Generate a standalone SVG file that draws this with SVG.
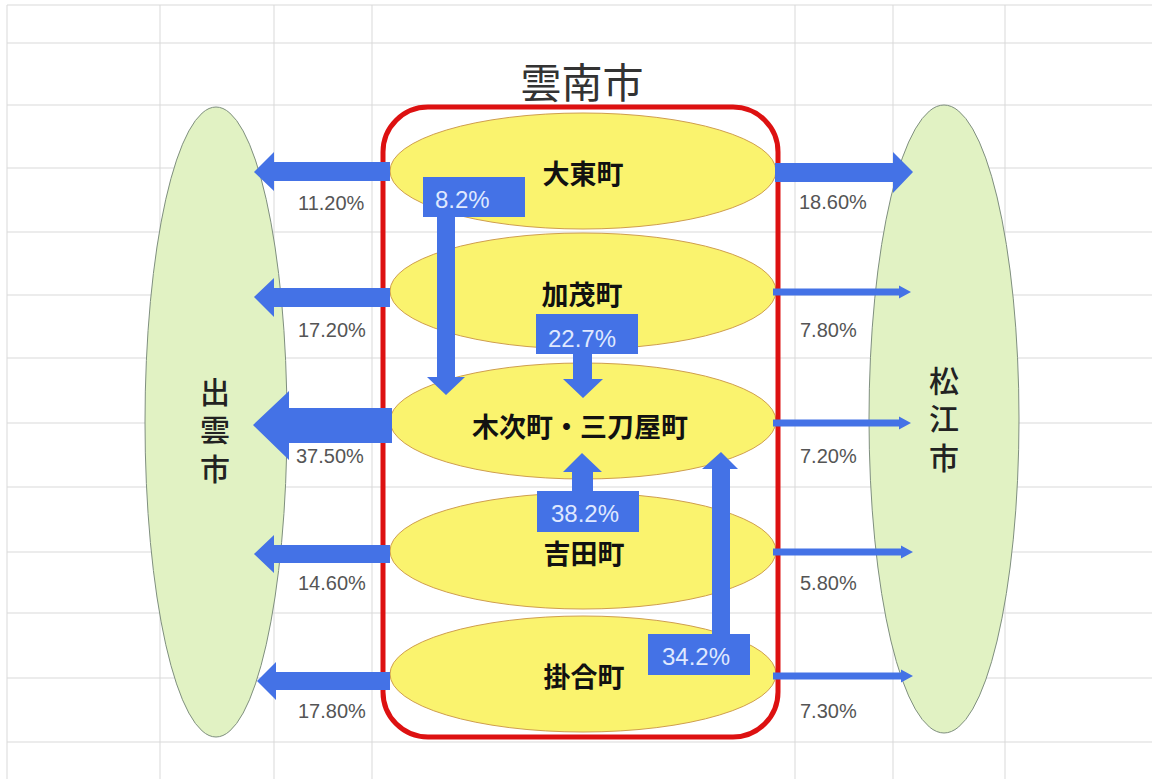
<svg xmlns="http://www.w3.org/2000/svg" width="1152" height="779" viewBox="0 0 1152 779">
<style>
.grid{stroke:#d9d9d9;stroke-width:1;fill:none}
.city{fill:#e1f2c3;stroke:#7f8f7f;stroke-width:1}
.town{fill:#faf36e;stroke:#cf9e4e;stroke-width:1}
.arr{fill:#4472e6}
.box{fill:#4472e6}
.boxt{font-family:"Liberation Sans",Arial,sans-serif;font-size:24px;fill:#dfe8ff}
.pct{font-family:"Liberation Sans",Arial,sans-serif;font-size:20px;fill:#555}
.tl{font-family:"Noto Sans CJK JP","Noto Sans CJK SC",sans-serif;font-size:27px;font-weight:bold;fill:#111;text-anchor:middle;dominant-baseline:central}
.cl{font-family:"Noto Sans CJK JP","Noto Sans CJK SC",sans-serif;font-size:30px;font-weight:500;fill:#222;text-anchor:middle;writing-mode:vertical-rl;letter-spacing:8.5px}
</style>
<rect x="0" y="0" width="1152" height="779" fill="#ffffff"/>
<g id="grid">
<path class="grid" d="M7 5H1152M7 43H1152M7 105H1152M7 168H1152M7 232H1152M7 295H1152M7 358H1152M7 423H1152M7 487H1152M7 552H1152M7 613H1152M7 678H1152M7 742H1152M7 5V779M160 5V779M274 5V779M372 5V779M795 5V779M893 5V779M1005 5V779"/>
</g>
<g id="izumo">
<ellipse class="city" cx="216" cy="422" rx="71" ry="315"/>
<text class="cl" x="215" y="434">出雲市</text>
</g>
<g id="matsue">
<ellipse class="city" cx="944" cy="419" rx="75" ry="314"/>
<text class="cl" x="944" y="423">松江市</text>
</g>
<g id="daito">
<ellipse class="town" cx="583" cy="171" rx="193" ry="58"/>
<text class="tl" x="583" y="172">大東町</text>
</g>
<g id="kamo">
<ellipse class="town" cx="583" cy="291" rx="193" ry="58"/>
<text class="tl" x="582" y="293">加茂町</text>
</g>
<g id="kisuki">
<ellipse class="town" cx="583" cy="421" rx="193" ry="58"/>
<text class="tl" x="580" y="425">木次町・三刀屋町</text>
</g>
<g id="yoshida">
<ellipse class="town" cx="583" cy="551" rx="193" ry="58"/>
<text class="tl" x="584" y="552">吉田町</text>
</g>
<g id="kakeya">
<ellipse class="town" cx="583" cy="674" rx="193" ry="58"/>
<text class="tl" x="584" y="675">掛合町</text>
</g>
<g id="unnan">
<rect x="383" y="107" width="395" height="630" rx="45" ry="45" fill="none" stroke="#dd1111" stroke-width="5"/>
<text x="582" y="80" font-family="'Noto Sans CJK JP','Noto Sans CJK SC',sans-serif" font-size="41" fill="#333" text-anchor="middle" dominant-baseline="central">雲南市</text>
</g>
<g id="connectors">
<polygon class="arr" points="390,162 274,162 274,152 254,172 274,191 274,181 390,181"/>
<polygon class="arr" points="390,288 274,288 274,278 254,297 274,317 274,307 390,307"/>
<polygon class="arr" points="392,408 289,408 289,391 253,425 289,460 289,443 392,443"/>
<polygon class="arr" points="390,545 274,545 274,535 254,554 274,573 274,563 390,563"/>
<polygon class="arr" points="390,672 276,672 276,662 257,681 276,700 276,690 390,690"/>
<polygon class="arr" points="775,163 893,163 893,152 913,172 893,193 893,182 775,182"/>
<polygon class="arr" points="773,288.5 899,288.5 899,285.5 911,292 899,298.5 899,295.5 773,295.5"/>
<polygon class="arr" points="773,419.5 899,419.5 899,416.5 911,423 899,429.5 899,426.5 773,426.5"/>
<polygon class="arr" points="773,548.5 901,548.5 901,545.5 913,552 901,558.5 901,555.5 773,555.5"/>
<polygon class="arr" points="773,672.5 901,672.5 901,669.5 913,676 901,682.5 901,679.5 773,679.5"/>
<polygon class="arr" points="437,215 455,215 455,377 465,377 446,395 427,377 437,377"/>
<polygon class="arr" points="573,352 592,352 592,379 603,379 583,398 563,379 573,379"/>
<polygon class="arr" points="572,493 593,493 593,472 602,472 582,453 563,472 572,472"/>
<polygon class="arr" points="712,636 730,636 730,469 738,469 721,452 702,469 712,469"/>
<rect class="box" x="423" y="177" width="102" height="40"/>
<text class="boxt" x="435" y="208">8.2%</text>
<rect class="box" x="536" y="314" width="102" height="40"/>
<text class="boxt" x="548" y="347">22.7%</text>
<rect class="box" x="537" y="491" width="102" height="41"/>
<text class="boxt" x="551" y="522">38.2%</text>
<rect class="box" x="648" y="634" width="102" height="41"/>
<text class="boxt" x="662" y="665">34.2%</text>
<text class="pct" x="298" y="210">11.20%</text>
<text class="pct" x="298" y="337">17.20%</text>
<text class="pct" x="296" y="463">37.50%</text>
<text class="pct" x="298" y="590">14.60%</text>
<text class="pct" x="298" y="718">17.80%</text>
<text class="pct" x="799" y="209">18.60%</text>
<text class="pct" x="800" y="337">7.80%</text>
<text class="pct" x="800" y="463">7.20%</text>
<text class="pct" x="800" y="590">5.80%</text>
<text class="pct" x="800" y="718">7.30%</text>
</g>
</svg>
